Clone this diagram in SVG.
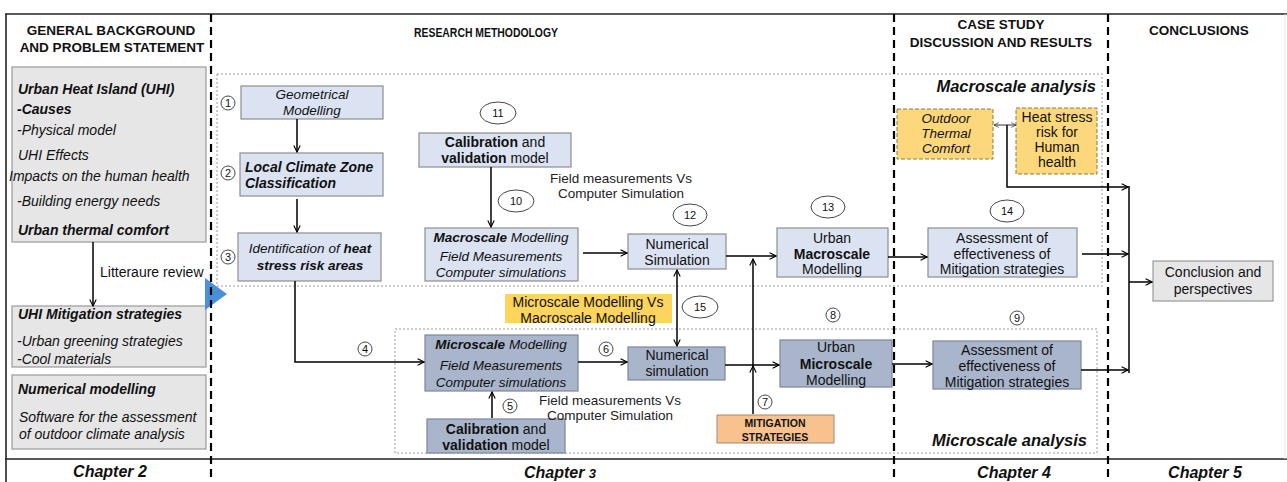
<svg xmlns="http://www.w3.org/2000/svg" width="1287" height="482" viewBox="0 0 1287 482">
  <defs>
    <marker id="arr" viewBox="0 0 10 10" refX="9" refY="5" markerWidth="8" markerHeight="8" markerUnits="userSpaceOnUse" orient="auto-start-reverse">
      <polyline points="1,1 9,5 1,9" fill="none" stroke="#000" stroke-width="1.4"/>
    </marker>
    <marker id="arrs" viewBox="0 0 10 10" refX="9" refY="5" markerWidth="6" markerHeight="6" markerUnits="userSpaceOnUse" orient="auto-start-reverse">
      <polyline points="1,1 9,5 1,9" fill="none" stroke="#333" stroke-width="1.2"/>
    </marker>
    <style>
      text { font-family: "Liberation Sans", Arial, sans-serif; fill: #111; }
      .hdr { font-size: 13.5px; font-weight: bold; text-anchor: middle; }
      .chap { font-size: 16px; font-weight: bold; font-style: italic; text-anchor: middle; }
      .lt { font-size: 14px; font-style: italic; }
      .ltb { font-size: 14px; font-style: italic; font-weight: bold; }
      .t { font-size: 14px; text-anchor: middle; }
      .ti { font-size: 13.5px; font-style: italic; text-anchor: middle; }
      .lbl { font-size: 13.5px; text-anchor: middle; fill: #222; }
      .num { font-size: 11px; text-anchor: middle; }
      .area { font-size: 16.5px; font-weight: bold; font-style: italic; text-anchor: end; }
      .gray { fill: #e6e6e6; stroke: #9a9a9a; stroke-width: 1.2; }
      .light { fill: #dbe3f2; stroke: #8d8d8d; stroke-width: 1.2; }
      .dark { fill: #a9b5cb; stroke: #7d8799; stroke-width: 1.2; }
      .yel { fill: #fdd77c; stroke: #8a7a4a; stroke-width: 1; stroke-dasharray: 4 2; }
      .zone { fill: none; stroke: #9a9a9a; stroke-width: 1; stroke-dasharray: 2 2; }
      .sep { stroke: #000; stroke-width: 2.2; stroke-dasharray: 8 5; }
      .ln { fill: none; stroke: #000; stroke-width: 1.5; }
      .ring { fill: #fff; stroke: #333; stroke-width: 0.9; }
      .caps { font-size: 10.5px; font-weight: bold; text-anchor: middle; }
    </style>
  </defs>

  <!-- frame -->
  <g id="frame">
    <line x1="5" y1="14" x2="1287" y2="14" stroke="#222" stroke-width="1.6"/>
    <line x1="6" y1="14" x2="6" y2="482" stroke="#222" stroke-width="1.6"/>
    <line x1="5" y1="459" x2="1287" y2="459" stroke="#222" stroke-width="1.6"/>
    <line x1="1285" y1="14" x2="1285" y2="459" stroke="#e4e4e4" stroke-width="1"/>
  </g>

  <!-- column headers -->
  <g id="headers">
    <text class="hdr" x="111" y="35">GENERAL BACKGROUND</text>
    <text class="hdr" x="112" y="52">AND PROBLEM STATEMENT</text>
    <text class="hdr" x="486" y="37" font-size="12" textLength="144" lengthAdjust="spacingAndGlyphs">RESEARCH METHODOLOGY</text>
    <text class="hdr" x="1001" y="29">CASE STUDY</text>
    <text class="hdr" x="1001" y="47">DISCUSSION AND RESULTS</text>
    <text class="hdr" x="1199" y="35">CONCLUSIONS</text>
  </g>

  <!-- chapter footers -->
  <g id="chapters">
    <text class="chap" x="110" y="477">Chapter 2</text>
    <text class="chap" x="560" y="478">Chapter <tspan font-size="13">3</tspan></text>
    <text class="chap" x="1014" y="478">Chapter 4</text>
    <text class="chap" x="1205" y="478">Chapter 5</text>
  </g>

  <!-- analysis zones -->
  <g id="zones">
    <rect class="zone" x="217" y="74" width="885" height="212"/>
    <rect class="zone" x="395" y="329" width="702" height="124"/>
    <text class="area" x="1096" y="92">Macroscale analysis</text>
    <text class="area" x="1087" y="446">Microscale analysis</text>
  </g>

  <!-- background column -->
  <g id="uhi">
    <rect class="gray" x="12" y="67" width="194" height="175"/>
    <text class="ltb" x="18" y="94">Urban Heat Island (UHI)</text>
    <text class="ltb" x="17" y="114">-Causes</text>
    <text class="lt" x="17" y="135">-Physical model</text>
    <text class="lt" x="18" y="160">UHI Effects</text>
    <text class="lt" x="9" y="181">Impacts on the human health</text>
    <text class="lt" x="17" y="206">-Building energy needs</text>
    <text class="ltb" x="18" y="235">Urban thermal comfort</text>
  </g>
  <g id="mitigation-review">
    <rect class="gray" x="12" y="306" width="194" height="61"/>
    <text class="ltb" x="18" y="319">UHI Mitigation strategies</text>
    <text class="lt" x="17" y="346">-Urban greening strategies</text>
    <text class="lt" x="17" y="364">-Cool materials</text>
  </g>
  <g id="numerical-modelling">
    <rect class="gray" x="12" y="375" width="194" height="74"/>
    <text class="ltb" x="18" y="394">Numerical modelling</text>
    <text class="lt" x="19" y="422">Software for the assessment</text>
    <text class="lt" x="19" y="439">of outdoor climate analysis</text>
  </g>

  <!-- pointer into the methodology column -->
  <g id="pointer">
    <polygon points="205,278 227,294 205,310" fill="#4a8fd8"/>
  </g>

  <!-- column separators -->
  <g id="separators">
    <line class="sep" x1="211" y1="14" x2="211" y2="482"/>
    <line class="sep" x1="894" y1="14" x2="894" y2="482"/>
    <line class="sep" x1="1108" y1="14" x2="1108" y2="482"/>
  </g>

  <!-- methodology steps -->
  <g id="geometrical">
    <rect class="light" x="241" y="86" width="142" height="33"/>
    <text class="ti" x="312" y="99">Geometrical</text>
    <text class="ti" x="312" y="115">Modelling</text>
  </g>
  <g id="lcz">
    <rect class="light" x="240" y="153" width="143" height="43"/>
    <text class="ltb" x="245" y="172">Local Climate Zone</text>
    <text class="ltb" x="245" y="188">Classification</text>
  </g>
  <g id="heat-stress-areas">
    <rect class="light" x="238" y="233" width="143" height="48"/>
    <text class="ti" x="310" y="253">Identification of <tspan font-weight="bold">heat</tspan></text>
    <text class="ti" x="310" y="270" font-weight="bold">stress risk areas</text>
  </g>
  <g id="calibration-macro">
    <rect class="light" x="419" y="133" width="152" height="34"/>
    <text class="t" x="495" y="147"><tspan font-weight="bold">Calibration</tspan> and</text>
    <text class="t" x="495" y="163"><tspan font-weight="bold">validation</tspan> model</text>
  </g>
  <g id="macroscale-modelling">
    <rect class="light" x="425" y="228" width="153" height="53"/>
    <text class="ti" x="501" y="242"><tspan font-weight="bold">Macroscale</tspan> Modelling</text>
    <text class="ti" x="501" y="261">Field Measurements</text>
    <text class="ti" x="501" y="277">Computer simulations</text>
  </g>
  <g id="numerical-macro">
    <rect class="light" x="628" y="234" width="98" height="35"/>
    <text class="t" x="677" y="249">Numerical</text>
    <text class="t" x="677" y="265">Simulation</text>
  </g>
  <g id="urban-macro">
    <rect class="light" x="777" y="228" width="111" height="49"/>
    <text class="t" x="832" y="243">Urban</text>
    <text class="t" x="832" y="259" font-weight="bold">Macroscale</text>
    <text class="t" x="832" y="274">Modelling</text>
  </g>
  <g id="assessment-macro">
    <rect class="light" x="928" y="228" width="149" height="49"/>
    <text class="t" x="1002" y="243">Assessment of</text>
    <text class="t" x="1002" y="259">effectiveness of</text>
    <text class="t" x="1002" y="274">Mitigation strategies</text>
  </g>
  <g id="outdoor-comfort">
    <rect class="yel" x="897" y="109" width="96" height="50"/>
    <text class="ti" x="946" y="123" font-size="13">Outdoor</text>
    <text class="ti" x="946" y="138" font-size="13">Thermal</text>
    <text class="ti" x="946" y="153" font-size="13">Comfort</text>
  </g>
  <g id="heat-risk">
    <rect class="yel" x="1016" y="108" width="81" height="66"/>
    <text class="t" x="1057" y="122" font-size="13">Heat stress</text>
    <text class="t" x="1057" y="137" font-size="13">risk for</text>
    <text class="t" x="1057" y="152" font-size="13">Human</text>
    <text class="t" x="1057" y="167" font-size="13">health</text>
  </g>
  <g id="conclusion">
    <rect class="gray" x="1153" y="261" width="120" height="40" fill="#ececec"/>
    <text class="t" x="1213" y="277">Conclusion and</text>
    <text class="t" x="1213" y="294">perspectives</text>
  </g>
  <g id="micro-vs-macro">
    <rect x="505" y="294" width="167" height="29" fill="#fcd45e"/>
    <text class="t" x="588" y="307">Microscale Modelling Vs</text>
    <text class="t" x="588" y="323">Macroscale Modelling</text>
  </g>
  <g id="microscale-modelling">
    <rect class="dark" x="425" y="335" width="153" height="56"/>
    <text class="ti" x="501" y="349"><tspan font-weight="bold">Microscale</tspan> Modelling</text>
    <text class="ti" x="501" y="370">Field Measurements</text>
    <text class="ti" x="501" y="387">Computer simulations</text>
  </g>
  <g id="calibration-micro">
    <rect class="dark" x="427" y="419" width="138" height="34"/>
    <text class="t" x="496" y="434"><tspan font-weight="bold">Calibration</tspan> and</text>
    <text class="t" x="496" y="450"><tspan font-weight="bold">validation</tspan> model</text>
  </g>
  <g id="numerical-micro">
    <rect class="dark" x="628" y="347" width="97" height="33"/>
    <text class="t" x="677" y="360">Numerical</text>
    <text class="t" x="677" y="376">simulation</text>
  </g>
  <g id="urban-micro">
    <rect class="dark" x="780" y="340" width="112" height="47"/>
    <text class="t" x="836" y="352">Urban</text>
    <text class="t" x="836" y="369" font-weight="bold">Microscale</text>
    <text class="t" x="836" y="385">Modelling</text>
  </g>
  <g id="assessment-micro">
    <rect class="dark" x="933" y="341" width="148" height="48"/>
    <text class="t" x="1007" y="355">Assessment of</text>
    <text class="t" x="1007" y="371">effectiveness of</text>
    <text class="t" x="1007" y="387">Mitigation strategies</text>
  </g>
  <g id="mitigation-strategies">
    <rect x="717" y="415" width="117" height="28" fill="#f8c28e" stroke="#9a8a7a" stroke-width="1"/>
    <text class="caps" x="775" y="427">MITIGATION</text>
    <text class="caps" x="775" y="441">STRATEGIES</text>
  </g>

  <!-- free labels -->
  <g id="labels">
    <text x="100" y="277" font-size="14" fill="#222">Litteraure review</text>
    <text class="lbl" x="621" y="183">Field measurements Vs</text>
    <text class="lbl" x="621" y="198">Computer Simulation</text>
    <text class="lbl" x="610" y="405">Field measurements Vs</text>
    <text class="lbl" x="610" y="420">Computer Simulation</text>
  </g>

  <!-- step numbers -->
  <g id="step-numbers">
    <circle class="ring" cx="228" cy="103" r="7"/><text class="num" x="228" y="107">1</text>
    <circle class="ring" cx="228" cy="173" r="7"/><text class="num" x="228" y="177">2</text>
    <circle class="ring" cx="228" cy="257" r="7"/><text class="num" x="228" y="261">3</text>
    <circle class="ring" cx="365" cy="349" r="7"/><text class="num" x="365" y="353">4</text>
    <circle class="ring" cx="510" cy="406" r="7"/><text class="num" x="510" y="410">5</text>
    <circle class="ring" cx="606" cy="349" r="7"/><text class="num" x="606" y="353">6</text>
    <circle class="ring" cx="765" cy="402" r="7"/><text class="num" x="765" y="406">7</text>
    <circle class="ring" cx="833" cy="315" r="7"/><text class="num" x="833" y="319">8</text>
    <circle class="ring" cx="1017" cy="318" r="7"/><text class="num" x="1017" y="322">9</text>
    <ellipse class="ring" cx="516" cy="201" rx="18" ry="11"/><text class="num" x="516" y="205" font-size="12">10</text>
    <ellipse class="ring" cx="498" cy="113" rx="18" ry="11"/><text class="num" x="498" y="117" font-size="12">11</text>
    <ellipse class="ring" cx="690" cy="215" rx="17" ry="11"/><text class="num" x="690" y="219" font-size="12">12</text>
    <ellipse class="ring" cx="828" cy="207" rx="17" ry="11"/><text class="num" x="828" y="211" font-size="12">13</text>
    <ellipse class="ring" cx="1007" cy="211" rx="17" ry="11"/><text class="num" x="1007" y="215" font-size="12">14</text>
    <ellipse class="ring" cx="700" cy="307" rx="18" ry="11"/><text class="num" x="700" y="311" font-size="12">15</text>
  </g>

  <!-- connectors -->
  <g id="connectors">
    <line class="ln" x1="93" y1="242" x2="93" y2="306" marker-end="url(#arr)"/>
    <line class="ln" x1="297" y1="119" x2="297" y2="152" marker-end="url(#arr)"/>
    <line class="ln" x1="297" y1="199" x2="297" y2="232" marker-end="url(#arr)"/>
    <polyline class="ln" points="295,281 295,362 424,362" marker-end="url(#arr)"/>
    <line class="ln" x1="491" y1="167" x2="491" y2="227" marker-end="url(#arr)"/>
    <line class="ln" x1="583" y1="253" x2="627" y2="253" marker-end="url(#arr)"/>
    <line class="ln" x1="726" y1="256" x2="776" y2="256" marker-end="url(#arr)"/>
    <line class="ln" x1="888" y1="257" x2="927" y2="257" marker-end="url(#arr)"/>
    <line class="ln" x1="1082" y1="254" x2="1128" y2="254" marker-end="url(#arr)"/>
    <line class="ln" x1="677" y1="270" x2="677" y2="346" marker-start="url(#arr)" marker-end="url(#arr)"/>
    <line class="ln" x1="753" y1="414" x2="753" y2="366" marker-end="url(#arr)"/>
    <line class="ln" x1="753" y1="366" x2="753" y2="259" marker-end="url(#arr)"/>
    <line class="ln" x1="492" y1="418" x2="492" y2="392" marker-end="url(#arr)"/>
    <line class="ln" x1="578" y1="362" x2="627" y2="362" marker-end="url(#arr)"/>
    <line class="ln" x1="725" y1="365" x2="779" y2="365" marker-end="url(#arr)"/>
    <line class="ln" x1="892" y1="364" x2="932" y2="364" marker-end="url(#arr)"/>
    <line class="ln" x1="1081" y1="370" x2="1128" y2="370" marker-end="url(#arr)"/>
    <line x1="994" y1="125" x2="1016" y2="125" stroke="#333" stroke-width="1" marker-start="url(#arrs)" marker-end="url(#arrs)"/>
    <polyline class="ln" points="1007,125 1007,187 1128,187" marker-end="url(#arr)"/>
    <line class="ln" x1="1129" y1="186" x2="1129" y2="373"/>
    <line class="ln" x1="1129" y1="282" x2="1152" y2="282" marker-end="url(#arr)"/>
  </g>
</svg>
